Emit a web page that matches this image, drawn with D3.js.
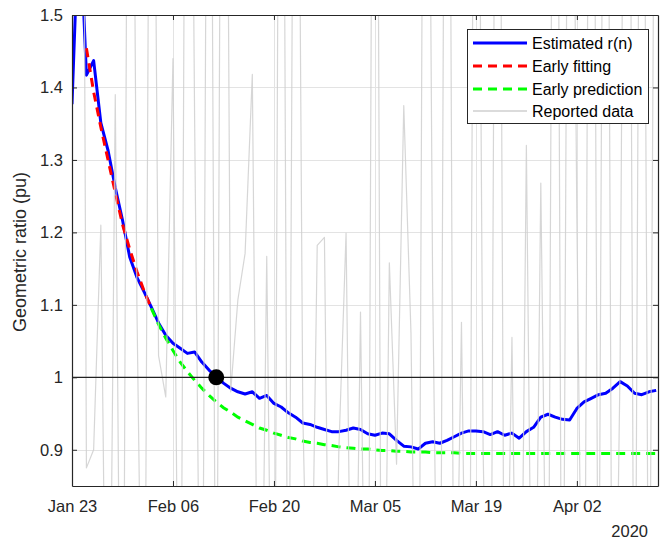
<!DOCTYPE html>
<html>
<head>
<meta charset="utf-8">
<script src="https://cdn.jsdelivr.net/npm/d3@7"></script>
<style>
  html, body { margin: 0; padding: 0; background: #ffffff; }
  svg { display: block; font-family: "Liberation Sans", Arial, Helvetica, sans-serif; }
</style>
</head>
<body>
<svg id="chart" width="660" height="541"></svg>
<script>
// Daily series, starting on 23 Jan 2020
const startDate = new Date(2020, 0, 23);

// Estimated geometric ratio r(n)
const estimated = [
  1.377, 1.65, 1.417, 1.437, 1.351, 1.313, 1.262, 1.217, 1.166, 1.138,
  1.118, 1.097, 1.075, 1.058, 1.047, 1.040, 1.033, 1.035, 1.021, 1.010,
  1.001, 0.992, 0.985, 0.980, 0.977, 0.980, 0.971, 0.975, 0.964, 0.959,
  0.951, 0.945, 0.937, 0.935, 0.931, 0.928, 0.925, 0.925, 0.927, 0.930,
  0.928, 0.922, 0.920, 0.923, 0.922, 0.913, 0.905, 0.904, 0.901, 0.909,
  0.911, 0.909, 0.913, 0.918, 0.923, 0.926, 0.926, 0.925, 0.921, 0.925,
  0.920, 0.923, 0.916, 0.925, 0.931, 0.945, 0.949, 0.945, 0.942, 0.941,
  0.957, 0.966, 0.971, 0.976, 0.978, 0.985, 0.994, 0.988, 0.978, 0.976,
  0.980, 0.982
];

// Early fitting (days 2 to 11)
const fitStart = 2;
const earlyFitting = [1.454, 1.394, 1.345, 1.300, 1.255, 1.211, 1.177, 1.146, 1.119, 1.095];

// Early prediction (day 11 onwards)
const predStart = 11;
const earlyPrediction = [
  1.095, 1.073, 1.054, 1.037, 1.021, 1.008, 0.996, 0.985, 0.975, 0.966,
  0.958, 0.952, 0.945, 0.940, 0.935, 0.930, 0.927, 0.923, 0.920, 0.917,
  0.915, 0.912, 0.910, 0.909, 0.907, 0.906, 0.904, 0.903, 0.902, 0.901,
  0.901, 0.900, 0.899, 0.899, 0.898, 0.898, 0.897, 0.897, 0.897, 0.896,
  0.896, 0.896, 0.896, 0.895, 0.895, 0.895, 0.895, 0.895, 0.895, 0.895,
  0.895, 0.895, 0.895, 0.895, 0.895, 0.895, 0.895, 0.895, 0.895, 0.895,
  0.895, 0.895, 0.895, 0.895, 0.895, 0.895, 0.895, 0.895, 0.895, 0.895,
  0.895
];

// Reported day-to-day ratio
const reported = [
  1.38, 3.20, 0.875, 0.90, 1.21, 0.30, 1.39, 0.20, 2.60, 1.10,
  0.35, 2.40, 1.03, 0.973, 1.44, 0.30, 2.60, 1.357, 0.35, 2.50,
  0.40, 2.70, 0.98, 1.107, 1.171, 1.418, 0.35, 1.167, 0.30, 2.60,
  0.40, 2.50, 0.95, 0.50, 1.182, 1.193, 0.30, 0.90, 1.199, 0.35,
  1.09, 0.35, 2.70, 0.30, 1.158, 0.88, 1.375, 1.061, 0.30, 2.60,
  1.13, 0.35, 2.70, 0.45, 1.076, 0.30, 2.50, 0.90, 0.35, 2.60,
  0.45, 1.055, 0.30, 1.32, 0.35, 1.268, 0.45, 2.70, 0.30, 2.40,
  1.22, 0.35, 2.70, 0.50, 2.60, 0.30, 1.021, 2.70, 0.35, 2.50,
  0.45, 2.20
];

// Marked point where r(n) crosses 1
const crossingDay = new Date(2020, 1, 12);
const crossingValue = 1.0;

// Axis ticks
const xTickDates = [
  new Date(2020, 0, 23), new Date(2020, 1, 6), new Date(2020, 1, 20),
  new Date(2020, 2, 5), new Date(2020, 2, 19), new Date(2020, 3, 2)
];
const yTickValues = [0.9, 1.0, 1.1, 1.2, 1.3, 1.4, 1.5];
const yTickLabels = ["0.9", "1", "1.1", "1.2", "1.3", "1.4", "1.5"];

const legendLabels = ["Estimated r(n)", "Early fitting", "Early prediction", "Reported data"];

// Layout
const L = 72, R = 658, T = 15, B = 486;

const svg = d3.select("#chart");

const x = d3.scaleTime()
  .domain([startDate, new Date(2020, 3, 13, 6)])
  .range([L, R]);
const y = d3.scaleLinear().domain([0.85, 1.5]).range([B, T]);

const dayOf = i => d3.timeDay.offset(startDate, i);

svg.append("defs").append("clipPath").attr("id", "plotClip")
  .append("rect").attr("x", L).attr("y", T).attr("width", R - L).attr("height", B - T);

// Grid
const grid = svg.append("g").attr("stroke", "#e3e3e3").attr("stroke-width", 1);
grid.selectAll("line.gx").data(xTickDates).join("line")
  .attr("x1", d => Math.round(x(d)) + 0.5).attr("x2", d => Math.round(x(d)) + 0.5)
  .attr("y1", T).attr("y2", B);
grid.selectAll("line.gy").data(yTickValues).join("line")
  .attr("y1", d => Math.round(y(d)) + 0.5).attr("y2", d => Math.round(y(d)) + 0.5)
  .attr("x1", L).attr("x2", R);

const plot = svg.append("g").attr("clip-path", "url(#plotClip)");

const line = d3.line().x(d => x(d.date)).y(d => y(d.value));
const toPoints = (arr, offset) => arr.map((v, i) => ({ date: dayOf(i + offset), value: v }));

// Estimated r(n)
plot.append("path")
  .datum(toPoints(estimated, 0))
  .attr("fill", "none").attr("stroke", "#0000ff").attr("stroke-width", 3)
  .attr("stroke-linejoin", "round")
  .attr("d", line);

// Early fitting
plot.append("path")
  .datum(toPoints(earlyFitting, fitStart))
  .attr("fill", "none").attr("stroke", "#ff0000").attr("stroke-width", 3)
  .attr("stroke-dasharray", "9,6")
  .attr("d", line);

// Early prediction
plot.append("path")
  .datum(toPoints(earlyPrediction, predStart))
  .attr("fill", "none").attr("stroke", "#00ff00").attr("stroke-width", 3)
  .attr("stroke-dasharray", "9,6")
  .attr("d", line);

// Reported data
plot.append("path")
  .datum(toPoints(reported, 0))
  .attr("fill", "none").attr("stroke", "#cfcfcf").attr("stroke-width", 1.2)
  .attr("stroke-opacity", 0.85)
  .attr("stroke-linejoin", "round")
  .attr("d", line);

// Reference level r = 1
plot.append("line")
  .attr("x1", L).attr("x2", R)
  .attr("y1", y(1)).attr("y2", y(1))
  .attr("stroke", "#222222").attr("stroke-width", 1.3);

// Crossing marker
plot.append("circle")
  .attr("cx", x(crossingDay)).attr("cy", y(crossingValue))
  .attr("r", 8).attr("fill", "#000000");

// Axes (box with inward ticks)
const axisColor = "#262626";
const tickLen = 5;
const fmt = d3.timeFormat("%b %d");

const xBottom = d3.axisBottom(x).tickValues(xTickDates).tickFormat(fmt).tickSizeInner(-tickLen).tickSizeOuter(0).tickPadding(14);
const xTop = d3.axisTop(x).tickValues(xTickDates).tickFormat("").tickSizeInner(-tickLen).tickSizeOuter(0);
const yLeft = d3.axisLeft(y).tickValues(yTickValues).tickFormat((d, i) => yTickLabels[i]).tickSizeInner(-tickLen).tickSizeOuter(0).tickPadding(9);
const yRight = d3.axisRight(y).tickValues(yTickValues).tickFormat("").tickSizeInner(-tickLen).tickSizeOuter(0);

function styleAxis(g) {
  g.select(".domain").attr("stroke", axisColor).attr("stroke-width", 1.2);
  g.selectAll(".tick line").attr("stroke", axisColor).attr("stroke-width", 1);
  g.selectAll(".tick text").attr("fill", "#262626").style("font-size", "16.5px")
    .style("font-family", "'Liberation Sans', Arial, sans-serif");
}

svg.append("g").attr("transform", `translate(0,${B})`).call(xBottom).call(styleAxis);
svg.append("g").attr("transform", `translate(0,${T})`).call(xTop).call(styleAxis);
svg.append("g").attr("transform", `translate(${L},0)`).call(yLeft).call(styleAxis);
svg.append("g").attr("transform", `translate(${R},0)`).call(yRight).call(styleAxis);

// Year label
svg.append("text")
  .attr("x", 648).attr("y", 537)
  .attr("text-anchor", "end")
  .attr("fill", "#262626").style("font-size", "16.5px")
  .text("2020");

// Y axis title
svg.append("text")
  .attr("transform", "translate(26,252) rotate(-90)")
  .attr("text-anchor", "middle")
  .attr("fill", "#262626").style("font-size", "18px")
  .text("Geometric ratio (pu)");

// Legend
const legend = svg.append("g");
legend.append("rect")
  .attr("x", 467.5).attr("y", 29.5).attr("width", 181).attr("height", 94)
  .attr("fill", "#ffffff").attr("stroke", "#262626").attr("stroke-width", 1);

const legendStyles = [
  { color: "#0000ff", width: 3, dash: null },
  { color: "#ff0000", width: 3, dash: "9,6" },
  { color: "#00ff00", width: 3, dash: "9,6" },
  { color: "#cfcfcf", width: 1.5, dash: null }
];
const rowY = [43, 66, 89, 111];

legendLabels.forEach((label, i) => {
  const s = legendStyles[i];
  legend.append("line")
    .attr("x1", 473).attr("x2", 527)
    .attr("y1", rowY[i]).attr("y2", rowY[i])
    .attr("stroke", s.color).attr("stroke-width", s.width)
    .attr("stroke-dasharray", s.dash);
  legend.append("text")
    .attr("x", 532).attr("y", rowY[i])
    .attr("dy", "0.35em")
    .attr("fill", "#000000").style("font-size", "16px")
    .text(label);
});
</script>
</body>
</html>
